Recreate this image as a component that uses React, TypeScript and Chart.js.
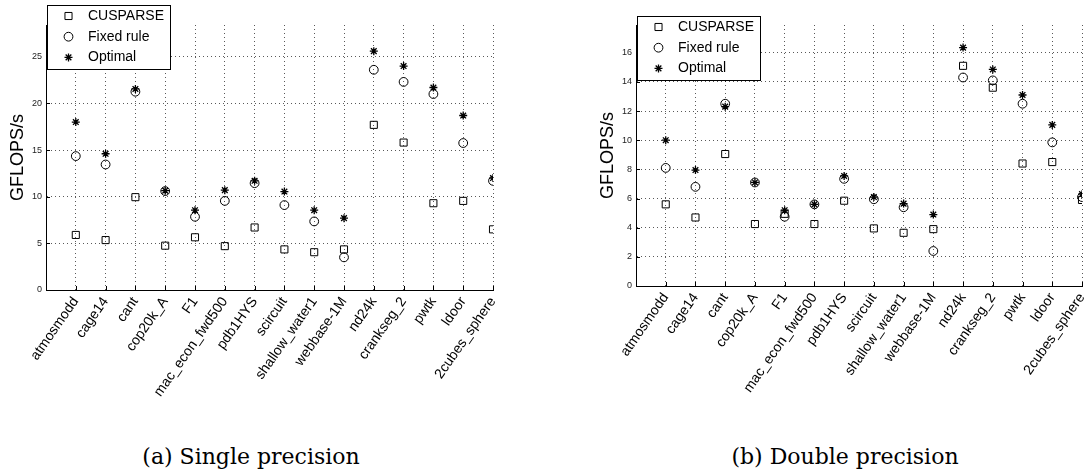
import React, { useEffect, useRef } from 'react';
import { Chart, registerables } from 'chart.js';
import { drawPoint } from 'chart.js/helpers';

Chart.register(...registerables);

// ---------- data ----------
const categories = [
  'atmosmodd', 'cage14', 'cant', 'cop20k_A', 'F1', 'mac_econ_fwd500', 'pdb1HYS',
  'scircuit', 'shallow_water1', 'webbase-1M', 'nd24k', 'crankseg_2', 'pwtk', 'ldoor', '2cubes_sphere',
];
const seriesNames = ['CUSPARSE', 'Fixed rule', 'Optimal'];

const cusparseSingle = [5.9, 5.35, 9.95, 4.75, 5.65, 4.7, 6.7, 4.35, 4.05, 4.35, 17.7, 15.8, 9.3, 9.55, 6.5];
const fixedSingle = [14.35, 13.45, 21.25, 10.6, 7.85, 9.55, 11.45, 9.1, 7.35, 3.5, 23.6, 22.3, 21.0, 15.75, 11.7];
const optimalSingle = [18.0, 14.6, 21.55, 10.65, 8.55, 10.7, 11.7, 10.55, 8.55, 7.7, 25.6, 24.0, 21.7, 18.7, 12.0];

const cusparseDouble = [5.6, 4.7, 9.05, 4.25, 4.95, 4.25, 5.85, 3.95, 3.65, 3.9, 15.1, 13.6, 8.4, 8.5, 5.9];
const fixedDouble = [8.1, 6.8, 12.5, 7.1, 4.75, 5.6, 7.35, 5.95, 5.4, 2.4, 14.3, 14.1, 12.5, 9.85, 6.1];
const optimalDouble = [10.0, 7.95, 12.3, 7.1, 5.2, 5.6, 7.55, 6.1, 5.65, 4.9, 16.35, 14.85, 13.1, 11.05, 6.3];

const yTicksSingle = [0, 5, 10, 15, 20, 25];
const yTicksDouble = [0, 2, 4, 6, 8, 10, 12, 14, 16];
const yMaxSingle = 28.4;
const yMaxDouble = 17.9;

const captionSingle = '(a) Single precision';
const captionDouble = '(b) Double precision';

// ---------- styling ----------
const SANS = "'Liberation Sans', Arial, Helvetica, sans-serif";
const CANVAS_H = 420;
const markerStyles = [
  { pointStyle: 'rect', pointRadius: 5, borderWidth: 1 },
  { pointStyle: 'circle', pointRadius: 4.4, borderWidth: 1 },
  { pointStyle: 'star', pointRadius: 4, borderWidth: 1.3 },
];

const boxLegend = {
  id: 'boxLegend',
  afterDraw(chart: any, _args: any, opts: any) {
    const { ctx, chartArea } = chart;
    const x = chartArea.left + opts.dx;
    const y = chartArea.top + opts.dy;
    ctx.save();
    ctx.fillStyle = '#fff';
    ctx.fillRect(x, y, opts.w, opts.h);
    ctx.strokeStyle = '#000';
    ctx.lineWidth = 1;
    ctx.strokeRect(Math.round(x) + 0.5, Math.round(y) + 0.5, opts.w, opts.h);
    chart.data.datasets.forEach((ds: any, i: number) => {
      const cy = y + opts.rowTop + i * opts.rowGap;
      ctx.fillStyle = 'rgba(0,0,0,0)';
      ctx.strokeStyle = '#000';
      ctx.lineWidth = ds.borderWidth;
      drawPoint(ctx, { pointStyle: ds.pointStyle, radius: ds.pointRadius, borderWidth: ds.borderWidth, rotation: 0 } as any, x + opts.markerX, cy);
      ctx.fillStyle = '#000';
      ctx.font = `14px ${SANS}`;
      ctx.textBaseline = 'middle';
      ctx.textAlign = 'left';
      ctx.fillText(ds.label, x + opts.textX, cy);
    });
    ctx.restore();
  },
};

const inwardTicks = {
  id: 'inwardTicks',
  afterDatasetsDraw(chart: any) {
    const { ctx, chartArea } = chart;
    const xs = chart.scales.x;
    const ys = chart.scales.y;
    ctx.save();
    ctx.strokeStyle = '#000';
    ctx.lineWidth = 1;
    ctx.beginPath();
    xs.ticks.forEach((t: any) => {
      if (t.value === 0) return;
      const px = Math.round(xs.getPixelForValue(t.value)) + 0.5;
      ctx.moveTo(px, chartArea.bottom);
      ctx.lineTo(px, chartArea.bottom - 4);
    });
    ys.ticks.forEach((t: any) => {
      if (t.value === 0) return;
      const py = Math.round(ys.getPixelForValue(t.value)) + 0.5;
      ctx.moveTo(chartArea.left, py);
      ctx.lineTo(chartArea.left + 4, py);
    });
    ctx.stroke();
    ctx.restore();
  },
};

type PanelProps = {
  left: number;
  width: number;
  padRight: number;
  plotBottom: number;
  yMax: number;
  yTicks: number[];
  series: number[][];
  legendDy: number;
};

function Panel({ left, width, padRight, plotBottom, yMax, yTicks, series, legendDy }: PanelProps) {
  const ref = useRef<HTMLCanvasElement>(null);
  useEffect(() => {
    const positions = categories.map((_, i) => i + 1);
    const chart = new Chart(ref.current as HTMLCanvasElement, {
      type: 'scatter',
      data: {
        datasets: series.map((vals, s) => ({
          label: seriesNames[s],
          data: vals.map((v, i) => ({ x: positions[i], y: v })),
          pointStyle: markerStyles[s].pointStyle as any,
          pointRadius: markerStyles[s].pointRadius,
          borderWidth: markerStyles[s].borderWidth,
          borderColor: '#000',
          backgroundColor: 'rgba(0,0,0,0)',
          showLine: false,
        })),
      },
      options: {
        responsive: false,
        maintainAspectRatio: false,
        animation: false,
        events: [],
        layout: { padding: { left: 0, top: 25, right: padRight, bottom: 0 } },
        plugins: {
          legend: { display: false },
          tooltip: { enabled: false },
          boxLegend: { dx: 1, dy: legendDy, w: 123, h: 64, rowTop: 11, rowGap: 20.7, markerX: 21.5, textX: 41 },
        } as any,
        scales: {
          x: {
            type: 'linear',
            min: 0,
            max: categories.length,
            afterBuildTicks: (s: any) => {
              s.ticks = [0, ...positions].map((v) => ({ value: v }));
            },
            afterFit: (s: any) => {
              s.height = CANVAS_H - plotBottom;
              s.paddingLeft = 0;
              s.paddingRight = 0;
            },
            grid: { color: 'rgba(0,0,0,0.65)', lineWidth: 1, drawTicks: false },
            border: { display: true, color: '#000', width: 1, dash: [1, 3] },
            ticks: {
              autoSkip: false,
              minRotation: 55,
              maxRotation: 55,
              padding: 4,
              color: '#000',
              font: { family: SANS, size: 14 },
              callback: (v: any) => categories[Number(v) - 1] ?? '',
            },
          },
          y: {
            type: 'linear',
            min: 0,
            max: yMax,
            afterBuildTicks: (s: any) => {
              s.ticks = yTicks.map((v) => ({ value: v }));
            },
            afterFit: (s: any) => {
              s.width = 46;
              s.paddingTop = 0;
              s.paddingBottom = 0;
            },
            grid: { color: 'rgba(0,0,0,0.65)', lineWidth: 1, drawTicks: false },
            border: { display: true, color: '#000', width: 1, dash: [1, 3] },
            ticks: {
              padding: 4,
              color: '#222',
              font: { family: SANS, size: 9 },
            },
            title: {
              display: true,
              text: 'GFLOPS/s',
              color: '#000',
              font: { family: SANS, size: 18 },
              padding: { top: 7.2, bottom: 0 },
            },
          },
        },
      },
      plugins: [inwardTicks, boxLegend],
    });
    return () => chart.destroy();
  }, []);
  return (
    <canvas
      ref={ref}
      width={width}
      height={CANVAS_H}
      style={{ position: 'absolute', left, top: 0, width, height: CANVAS_H }}
    />
  );
}

const captionStyle = (center: number): React.CSSProperties => ({
  position: 'absolute',
  left: center - 200,
  width: 400,
  top: 445,
  textAlign: 'center',
  fontFamily: "'DejaVu Serif', 'Liberation Serif', serif",
  fontSize: 22,
  lineHeight: '24px',
  color: '#000',
  whiteSpace: 'nowrap',
});

export default function App() {
  return (
    <div style={{ position: 'absolute', left: 0, top: 0, width: 1089, height: 475, background: '#fff', overflow: 'hidden' }}>
      <Panel
        left={0}
        width={540}
        padRight={47}
        plotBottom={290}
        yMax={yMaxSingle}
        yTicks={yTicksSingle}
        series={[cusparseSingle, fixedSingle, optimalSingle]}
        legendDy={-20}
      />
      <Panel
        left={590}
        width={499}
        padRight={7}
        plotBottom={286}
        yMax={yMaxDouble}
        yTicks={yTicksDouble}
        series={[cusparseDouble, fixedDouble, optimalDouble]}
        legendDy={-9}
      />
      <div style={captionStyle(251)}>{captionSingle}</div>
      <div style={captionStyle(845)}>{captionDouble}</div>
    </div>
  );
}
